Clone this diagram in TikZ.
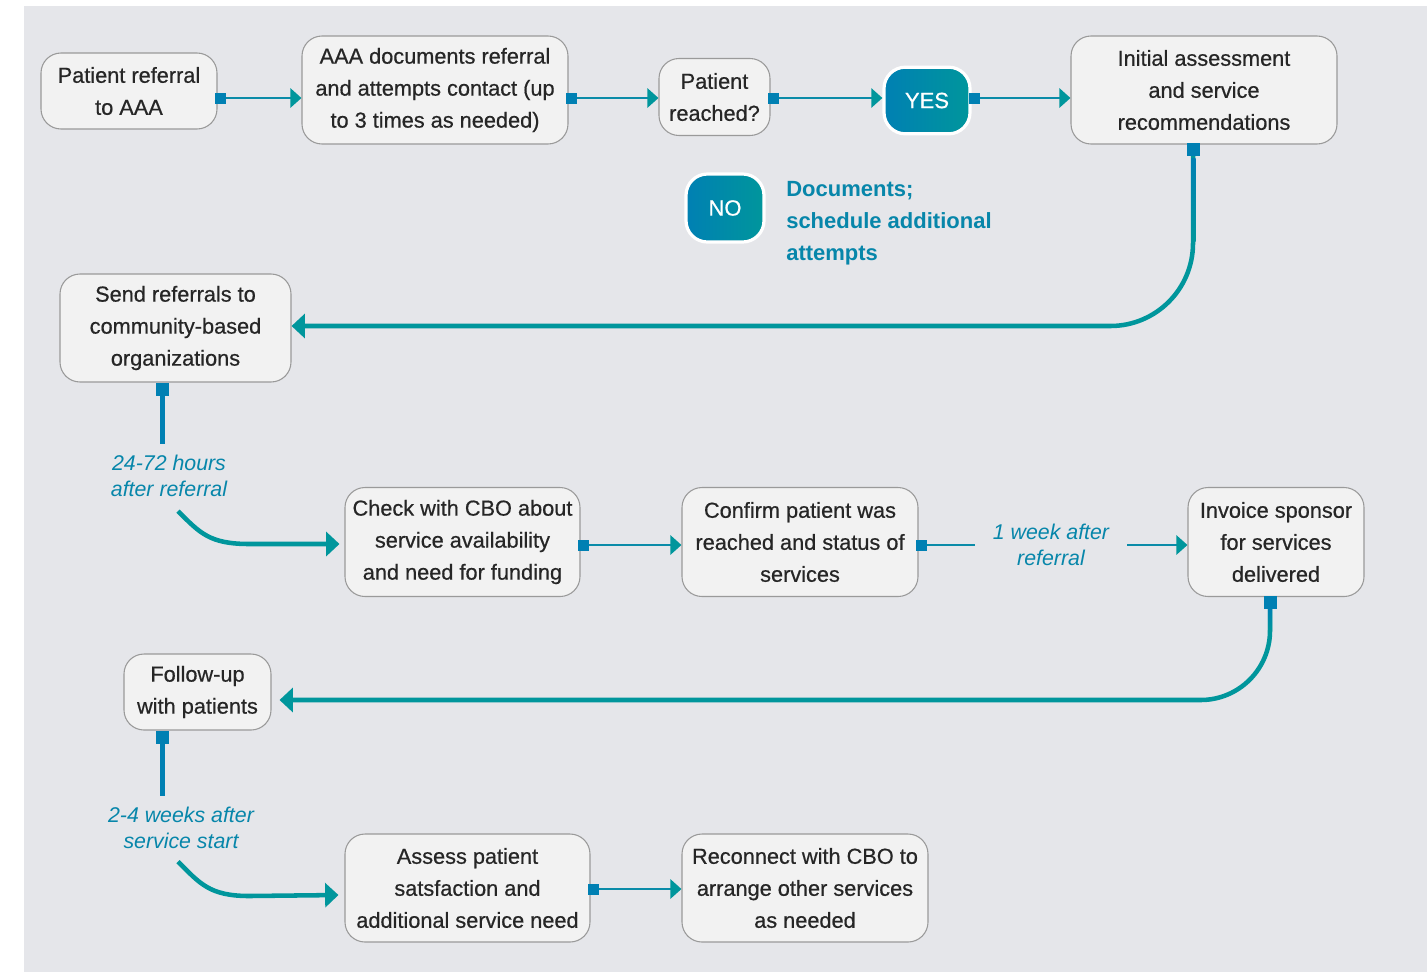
\documentclass[tikz,border=0pt]{standalone}
\usepackage{fontspec}
\setmainfont{Liberation Sans}
\newfontfamily\medfont{Liberation Sans}[FakeBold=0.6]
\usetikzlibrary{arrows.meta,calc}
\definecolor{bgc}{HTML}{E5E6EA}
\definecolor{boxfill}{HTML}{F2F2F2}
\definecolor{boxline}{HTML}{9A9A9A}
\definecolor{txt}{HTML}{262626}
\definecolor{bluec}{HTML}{0080B3}
\definecolor{tealc}{HTML}{00969C}
\definecolor{midc}{HTML}{0A8BA8}
\definecolor{labc}{HTML}{0786AA}
\begin{document}
\begin{tikzpicture}[x=0.75pt,y=-0.75pt,
  box/.style={draw=boxline,line width=0.8pt,fill=boxfill,rounded corners=15pt,
    align=center,inner sep=0pt,text=txt,
    font=\medfont\fontsize{16.3pt}{24pt}\selectfont},
  pill/.style={draw=white,line width=2.4pt,rounded corners=16pt,
    left color=bluec,right color=tealc,inner sep=0pt,text=white,
    font=\medfont\fontsize{16.5pt}{24pt}\selectfont},
  lab/.style={align=center,inner sep=0pt,text=labc,
    font=\fontsize{16pt}{19.5pt}\selectfont\itshape},
  thinconn/.style={draw=midc,line width=1.9pt,
    {Square[length=8.25pt,width=8.25pt,color=bluec]}-{Triangle[length=8.25pt,width=14.25pt,color=tealc]}},
  thinstart/.style={draw=midc,line width=1.9pt,
    {Square[length=8.25pt,width=8.25pt,color=bluec]}-},
  thinend/.style={draw=midc,line width=1.9pt,
    -{Triangle[length=8.25pt,width=14.25pt,color=tealc]}},
  thickconn/.style={draw=tealc,line width=3.4pt,rounded corners=62pt,
    {Square[length=9.75pt,width=9.75pt,color=bluec]}-{Triangle[length=10pt,width=18pt,color=tealc]}},
  thickstart/.style={draw=bluec,line width=3.4pt,
    {Square[length=9.75pt,width=9.75pt,color=bluec]}-},
  thickend/.style={draw=tealc,line width=3.4pt,
    -{Triangle[length=10pt,width=18pt,color=tealc]}}
]
\useasboundingbox (0,0) rectangle (1427,972);
\fill[white] (0,0) rectangle (1427,972);
\fill[bgc] (24,6) rectangle (1427,972);

% row coordinates
\coordinate (r1) at (0,98);
\coordinate (r2) at (0,326);
\coordinate (r3) at (0,545);
\coordinate (r4) at (0,700);
\coordinate (r5) at (0,889);

% nodes
\node[box,minimum width=132pt,minimum height=57pt] (n1) at (129,91) {Patient referral\\to AAA};
\node[box,minimum width=199.5pt,minimum height=81pt] (n2) at (435,90) {AAA documents referral\\and attempts contact (up\\to 3 times as needed)};
\node[box,minimum width=83.25pt,minimum height=57.75pt] (n3) at (714.5,97) {Patient\\reached?};
\node[pill,minimum width=64.5pt,minimum height=50pt] (yes) at (927,100.5) {YES};
\node[box,minimum width=199.5pt,minimum height=81pt] (n5) at (1204,90) {Initial assessment\\and service\\recommendations};
\node[pill,minimum width=58.5pt,minimum height=51pt] (no) at (725,208) {NO};
\node[anchor=west,align=left,inner sep=0pt,text=labc,font=\fontsize{16.5pt}{24pt}\selectfont\bfseries] (doc) at (786,223) {Documents;\\schedule additional\\attempts};
\node[box,minimum width=173.25pt,minimum height=81pt] (n8) at (175.5,328) {Send referrals to\\community-based\\organizations};
\node[lab] (lab1) at (169,476) {24-72 hours\\after referral};
\node[box,minimum width=176.25pt,minimum height=81.75pt] (n9) at (462.5,542) {Check with CBO about\\service availability\\and need for funding};
\node[box,minimum width=177pt,minimum height=81.75pt] (n10) at (800,542) {Confirm patient was\\reached and status of\\services};
\node[lab] (lab2) at (1051,545) {1 week after\\referral};
\node[box,minimum width=132pt,minimum height=81.75pt] (n11) at (1276,542) {Invoice sponsor\\for services\\delivered};
\node[box,minimum width=110.25pt,minimum height=57pt] (n12) at (197.5,692) {Follow-up\\with patients};
\node[lab] (lab3) at (181,827.5) {2-4 weeks after\\service start};
\node[box,minimum width=183.75pt,minimum height=81pt] (n13) at (467.5,888) {Assess patient\\satsfaction and\\additional service need};
\node[box,minimum width=184.5pt,minimum height=81pt] (n14) at (805,888) {Reconnect with CBO to\\arrange other services\\as needed};

% row 1 connectors
\draw[thinconn,shorten <=-2pt] (n1.east|-r1) -- (n2.west|-r1);
\draw[thinconn,shorten <=-2pt] (n2.east|-r1) -- (n3.west|-r1);
\draw[thinconn,shorten <=-2pt] (n3.east|-r1) -- (yes.west|-r1);
\draw[thinconn,shorten <=-2pt] (yes.east|-r1) -- (n5.west|-r1);

% long connector n5 -> n8
\draw[thickconn,shorten <=-1pt] ([xshift=-8.25pt]n5.south) -- ([xshift=-8.25pt]n5.south|-r2) -- (n8.east|-r2);
\shade[top color=bluec,bottom color=tealc] (1191.3,158) rectangle (1195.7,241);

% n8 -> lab1 -> n9
\draw[thickstart] ([xshift=-9.75pt]n8.south) -- ([xshift=-9.75pt,yshift=8pt]n8.south|-lab1.north);
\draw[thickend] ($(lab1.south)+(9,14)$) .. controls +(22,22) and +(-40,0) .. ($(n9.west|-r3)+(-95,-1)$) -- ($(n9.west|-r3)+(-5,-1)$);

% row 3 connectors
\draw[thinconn,shorten <=-2pt] (n9.east|-r3) -- (n10.west|-r3);
\draw[thinstart,shorten <=-2pt] (n10.east|-r3) -- ([xshift=-13.5pt]lab2.west|-r3);
\draw[thinend] ([xshift=13.5pt]lab2.east|-r3) -- (n11.west|-r3);

% long connector n11 -> n12
\draw[thickconn,rounded corners=52pt,shorten <=-1pt,shorten >=6pt] ([xshift=-4.5pt]n11.south) -- ([xshift=-4.5pt]n11.south|-r4) -- (n12.east|-r4);
\shade[top color=bluec,bottom color=tealc] (1267.8,608) rectangle (1272.2,630);

% n12 -> lab3 -> n13
\draw[thickstart] ([xshift=-26.25pt]n12.south) -- ([xshift=-26.25pt,yshift=8pt]n12.south|-lab3.north);
\draw[thickend] ($(lab3.south)+(-3,13)$) .. controls +(22,22) and +(-40,0) .. ($(n13.west|-r5)+(-95,7)$) -- ($(n13.west|-r5)+(-6,6)$);

% row 5
\draw[thinconn,shorten <=-2pt] (n13.east|-r5) -- (n14.west|-r5);
\end{tikzpicture}
\end{document}
